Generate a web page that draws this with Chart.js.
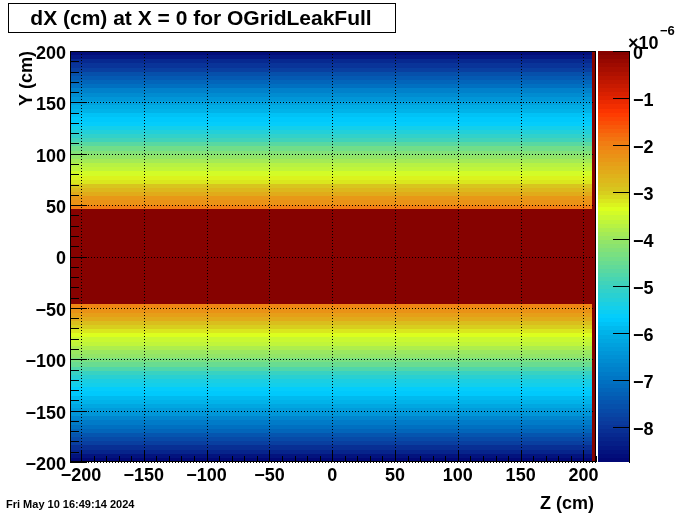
<!DOCTYPE html>
<html>
<head>
<meta charset="utf-8">
<script src="https://cdn.jsdelivr.net/npm/chart.js@4.4.1/dist/chart.umd.min.js"></script>
<style>
  html, body { margin: 0; padding: 0; background: #fff; }
  #wrap { width: 700px; height: 514px; }
</style>
</head>
<body>
<div id="wrap"><canvas id="dxmap" width="700" height="514"></canvas></div>
<script>
// dX (cm) at X = 0, values in units of 1e-6 cm
const zEdges = [-208.75, 207, 210];   // main column, then the thin last column
const yRange = [-200, 200];
const yBinCount = 99;
// one value per Y bin, from Y = -200 upwards (main column)
const dxMain = [
  -8.7, -8.5, -8.25, -8.05, -7.85, -7.65, -7.45, -7.25, -7.05, -6.85,
  -6.65, -6.45, -6.3, -6.15, -6.0, -5.9, -5.75, -5.65, -5.5, -5.35,
  -5.2, -5.0, -4.75, -4.5, -4.3, -4.1, -3.95, -3.8, -3.65, -3.5,
  -3.35, -3.2, -3.0, -2.8, -2.6, -2.4, -2.25, -2.05,
  0, 0, 0, 0, 0, 0, 0, 0, 0, 0, 0, 0, 0, 0, 0, 0, 0, 0, 0, 0, 0, 0, 0,
  -2.0, -2.2, -2.35, -2.55, -2.75, -2.95, -3.15, -3.3, -3.45, -3.6,
  -3.75, -3.9, -4.05, -4.2, -4.4, -4.65, -4.9, -5.1, -5.3, -5.45,
  -5.6, -5.7, -5.85, -5.95, -6.1, -6.25, -6.4, -6.6, -6.8, -7.0,
  -7.2, -7.4, -7.6, -7.8, -8.0, -8.2, -8.45, -8.65
];
const dxLastColumn = 0;   // whole strip at Z 207..210
const zTicks = [-200, -150, -100, -50, 0, 50, 100, 150, 200];
const yTicks = [-200, -150, -100, -50, 0, 50, 100, 150, 200];
const colorTicks = [0, -1, -2, -3, -4, -5, -6, -7, -8];
const colorRange = [-8.74, 0];

const FONT = "'Liberation Sans', Arial, sans-serif";
const nLevels = 100;
const paletteStops = [
  [0.00, [0, 5, 115]],
  [0.09, [10, 55, 155]],
  [0.20, [0, 115, 195]],
  [0.31, [0, 175, 230]],
  [0.35, [0, 205, 255]],
  [0.43, [60, 210, 190]],
  [0.54, [150, 230, 100]],
  [0.615, [220, 255, 30]],
  [0.66, [215, 200, 30]],
  [0.77, [240, 130, 20]],
  [0.85, [255, 55, 0]],
  [0.885, [225, 35, 0]],
  [1.00, [130, 0, 0]]
];

function paletteAt(f) {
  for (let i = 1; i < paletteStops.length; i++) {
    const [f1, c1] = paletteStops[i];
    const [f0, c0] = paletteStops[i - 1];
    if (f <= f1) {
      const t = (f - f0) / (f1 - f0);
      const c = c0.map((v, k) => Math.round(v + (c1[k] - v) * t));
      return `rgb(${c[0]},${c[1]},${c[2]})`;
    }
  }
  return 'rgb(130,0,0)';
}

// ROOT-like contour levels
function levelColor(scale, v) {
  const f = (v - scale.min) / (scale.max - scale.min);
  const idx = Math.max(0, Math.min(nLevels - 1, Math.floor(f * nLevels)));
  return paletteAt((idx + 0.5) / nLevels);
}

const minus = v => String(v).replace('-', '\u2212');

const heatmapPlugin = {
  id: 'heatmap',
  beforeDatasetsDraw(chart) {
    const { ctx, scales: { x, y, c } } = chart;
    const binH = (yRange[1] - yRange[0]) / yBinCount;
    const x0 = Math.round(x.getPixelForValue(zEdges[0]));
    const x1 = Math.round(x.getPixelForValue(zEdges[1]));
    const x2 = Math.round(x.getPixelForValue(zEdges[2]));
    ctx.save();
    dxMain.forEach((v, i) => {
      const yb = Math.round(y.getPixelForValue(yRange[0] + i * binH));
      const yt = Math.round(y.getPixelForValue(yRange[0] + (i + 1) * binH));
      ctx.fillStyle = levelColor(c, v);
      ctx.fillRect(x0, yt, x1 - x0, yb - yt);
    });
    const yTop = Math.round(y.getPixelForValue(yRange[1]));
    const yBot = Math.round(y.getPixelForValue(yRange[0]));
    ctx.fillStyle = levelColor(c, dxLastColumn);
    ctx.fillRect(x1, yTop, x2 - x1, yBot - yTop);
    ctx.restore();
  },
  afterDraw(chart) {
    const { ctx, chartArea: a, scales: { x, y, c } } = chart;
    ctx.save();

    // colour palette box
    const cbL = a.right + 2, cbR = a.right + 33;
    const step = (c.max - c.min) / nLevels;
    for (let k = 0; k < nLevels; k++) {
      const pb = Math.round(c.getPixelForValue(c.min + k * step));
      const pt = Math.round(c.getPixelForValue(c.min + (k + 1) * step));
      ctx.fillStyle = paletteAt((k + 0.5) / nLevels);
      ctx.fillRect(cbL, pt, cbR - cbL, pb - pt);
    }
    ctx.strokeStyle = '#000';
    ctx.lineWidth = 1;
    ctx.beginPath();
    ctx.moveTo(cbR + 0.5, a.top);
    ctx.lineTo(cbR + 0.5, a.bottom + 1);
    c.ticks.forEach(t => {
      const py = Math.round(c.getPixelForValue(t.value)) + 0.5;
      ctx.moveTo(cbR - 16, py);
      ctx.lineTo(cbR + 1, py);
    });
    ctx.stroke();

    // dotted grid
    ctx.setLineDash([1, 2]);
    ctx.beginPath();
    zTicks.forEach(v => {
      const px = Math.round(x.getPixelForValue(v)) + 0.5;
      ctx.moveTo(px, a.top);
      ctx.lineTo(px, a.bottom);
    });
    yTicks.forEach(v => {
      const py = Math.round(y.getPixelForValue(v)) + 0.5;
      ctx.moveTo(a.left, py);
      ctx.lineTo(a.right, py);
    });
    ctx.stroke();
    ctx.setLineDash([]);

    // frame and inward ticks
    ctx.strokeRect(a.left + 0.5, a.top + 0.5, a.right - a.left - 1, a.bottom - a.top - 1);
    ctx.beginPath();
    for (let v = -200; v <= x.max; v += 10) {
      if (v < x.min) continue;
      const px = Math.round(x.getPixelForValue(v)) + 0.5;
      const len = v % 50 === 0 ? 12 : 6;
      ctx.moveTo(px, a.bottom);
      ctx.lineTo(px, a.bottom - len);
    }
    for (let v = -200; v <= 200; v += 10) {
      const py = Math.round(y.getPixelForValue(v)) + 0.5;
      const len = v % 50 === 0 ? 17 : 9;
      ctx.moveTo(a.left, py);
      ctx.lineTo(a.left + len, py);
    }
    ctx.stroke();

    // texts
    ctx.fillStyle = '#000';
    ctx.font = `bold 18px ${FONT}`;
    ctx.textAlign = 'right';
    ctx.textBaseline = 'alphabetic';
    ctx.fillText('Z (cm)', 594, 509);
    ctx.save();
    ctx.translate(32, a.top);
    ctx.rotate(-Math.PI / 2);
    ctx.fillText('Y (cm)', 0, 0);
    ctx.restore();

    ctx.textAlign = 'left';
    ctx.fillText('\u00d710', 628, 49);
    ctx.font = `bold 13px ${FONT}`;
    ctx.fillText('\u22126', 660, 35);

    ctx.font = `bold 11px ${FONT}`;
    ctx.fillText('Fri May 10 16:49:14 2024', 6, 508);

    // title box
    ctx.fillStyle = '#fff';
    ctx.fillRect(8, 3, 387, 29);
    ctx.strokeRect(8.5, 3.5, 387, 29);
    ctx.fillStyle = '#000';
    ctx.font = `bold 21px ${FONT}`;
    ctx.textAlign = 'center';
    ctx.textBaseline = 'middle';
    ctx.fillText('dX (cm) at X = 0 for OGridLeakFull', 201, 19);
    ctx.restore();
  }
};

const tickFont = { family: FONT, size: 18, weight: 'bold', lineHeight: 1 };

new Chart(document.getElementById('dxmap'), {
  type: 'scatter',
  data: { datasets: [{ data: [], xAxisID: 'x', yAxisID: 'y' }] },
  options: {
    responsive: false,
    animation: false,
    events: [],
    layout: { padding: { top: 51, left: 0, right: 0, bottom: 0 } },
    plugins: { legend: { display: false }, tooltip: { enabled: false } },
    scales: {
      x: {
        type: 'linear', position: 'bottom',
        min: zEdges[0], max: zEdges[2],
        afterFit: s => { s.height = 52; },
        afterBuildTicks: s => { s.ticks = zTicks.map(v => ({ value: v })); },
        grid: { display: false, drawTicks: false },
        border: { display: false },
        ticks: { font: tickFont, color: '#000', padding: 5, maxRotation: 0, autoSkip: false, callback: minus }
      },
      y: {
        type: 'linear', position: 'left',
        min: yRange[0], max: yRange[1],
        afterFit: s => { s.width = 70; },
        afterBuildTicks: s => { s.ticks = yTicks.map(v => ({ value: v })); },
        grid: { display: false, drawTicks: false },
        border: { display: false },
        ticks: { font: tickFont, color: '#000', padding: 4, labelOffset: 3, autoSkip: false, callback: minus }
      },
      c: {
        type: 'linear', position: 'right',
        min: colorRange[0], max: colorRange[1],
        afterFit: s => { s.width = 104; },
        afterBuildTicks: s => { s.ticks = colorTicks.map(v => ({ value: v })); },
        grid: { display: false, drawTicks: false },
        border: { display: false },
        ticks: { font: tickFont, color: '#000', padding: 37, labelOffset: 3, autoSkip: false, callback: minus }
      }
    }
  },
  plugins: [heatmapPlugin]
});
</script>
</body>
</html>
